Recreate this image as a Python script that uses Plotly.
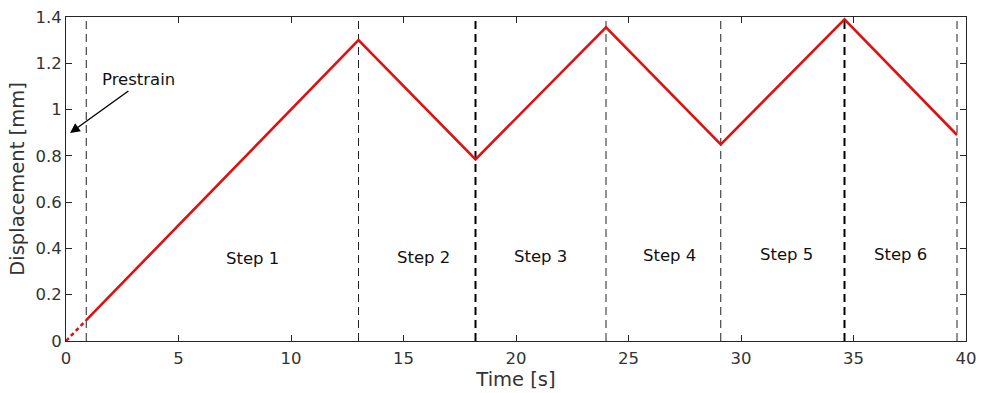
import plotly.graph_objects as go

# Displacement history (turning points of the loading path)
time_s = [0.9, 13.0, 18.2, 24.0, 29.1, 34.6, 39.6]
disp_mm = [0.09, 1.30, 0.785, 1.355, 0.85, 1.39, 0.89]

# Prestrain ramp (drawn dotted)
pre_time = [0.0, 0.9]
pre_disp = [0.0, 0.09]

# Step boundaries and line emphasis
step_bounds = [0.9, 13.0, 18.2, 24.0, 29.1, 34.6, 39.6]
bold_bounds = [18.2, 34.6]

step_labels = ["Step 1", "Step 2", "Step 3", "Step 4", "Step 5", "Step 6"]
step_label_x = [8.3, 15.9, 21.1, 26.8, 32.0, 37.1]
step_label_y = [0.355, 0.36, 0.365, 0.37, 0.375, 0.375]

x_ticks = [0, 5, 10, 15, 20, 25, 30, 35, 40]
y_ticks = [0, 0.2, 0.4, 0.6, 0.8, 1.0, 1.2, 1.4]
y_tick_text = ["0", "0.2", "0.4", "0.6", "0.8", "1", "1.2", "1.4"]

RED = "#e01010"
FONT = "DejaVu Sans"

fig = go.Figure()

for xb in step_bounds:
    bold = xb in bold_bounds
    fig.add_shape(
        type="line", xref="x", yref="paper", x0=xb, x1=xb, y0=0, y1=1,
        line=dict(color="#000000" if bold else "#222222",
                  width=2 if bold else 1, dash="8px,5px"),
        layer="below",
    )

fig.add_trace(go.Scatter(
    x=pre_time, y=pre_disp, mode="lines",
    line=dict(color=RED, width=2.5, dash="4px,3px"),
    showlegend=False, hoverinfo="skip",
))
fig.add_trace(go.Scatter(
    x=time_s, y=disp_mm, mode="lines",
    line=dict(color=RED, width=2.6),
    showlegend=False,
))

for lbl, lx, ly in zip(step_labels, step_label_x, step_label_y):
    fig.add_annotation(x=lx, y=ly, text=lbl, showarrow=False,
                       font=dict(family=FONT, size=16.5, color="#111111"))

fig.add_annotation(
    x=0.18, y=0.899, ax=2.84, ay=1.085, axref="x", ayref="y",
    text="", showarrow=True, arrowhead=2, arrowsize=1.4, arrowwidth=1.4,
    arrowcolor="#000000",
)
fig.add_annotation(x=3.22, y=1.128, text="Prestrain", showarrow=False,
                   font=dict(family=FONT, size=16.5, color="#111111"))

axis_common = dict(
    showline=True, linecolor="#262626", linewidth=1, mirror="ticks",
    ticks="inside", ticklen=6, tickcolor="#262626", showgrid=False,
    zeroline=False, tickfont=dict(family=FONT, size=16.5, color="#333333"),
)

fig.update_xaxes(range=[0, 40], tickvals=x_ticks, ticklabelstandoff=2,
                 title=dict(text="Time [s]", standoff=3,
                            font=dict(family=FONT, size=19.5, color="#333333")),
                 **axis_common)
fig.update_yaxes(range=[0, 1.4], tickvals=y_ticks, ticktext=y_tick_text,
                 title=dict(text="Displacement [mm]", standoff=5,
                            font=dict(family=FONT, size=19.5, color="#333333")),
                 **axis_common)

fig.update_layout(
    width=983, height=393,
    margin=dict(l=66, r=17, t=17, b=52, autoexpand=False),
    plot_bgcolor="white", paper_bgcolor="white",
)

fig.write_html("out.html")
